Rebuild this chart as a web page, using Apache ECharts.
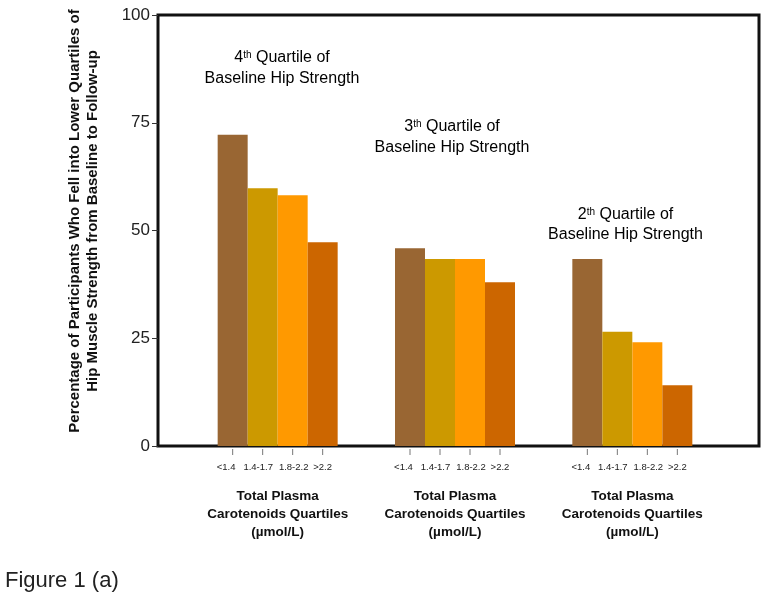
<!DOCTYPE html>
<html lang="en">
<head>
    <meta charset="UTF-8">
    <title>Figure 1 (a)</title>
    <script type="text/javascript" src="https://cdn.jsdelivr.net/npm/echarts@6/dist/echarts.min.js"></script>
    <style>
        html, body { margin: 0; padding: 0; background: #fff; }
        #chart { width: 764px; height: 600px; }
    </style>
</head>
<body>
    <div id="chart"></div>
<script type="text/javascript">
    // baseline hip strength groups (x categories)
    var hipGroups = ['4th', '3th', '2th'];
    // total plasma carotenoids quartiles (umol/L), one bar each per group
    var carotenoidQuartiles = ['<1.4', '1.4-1.7', '1.8-2.2', '>2.2'];
    // percentage who fell into lower quartiles, per carotenoid quartile
    var q1Values = [72.2, 45.9, 43.4];
    var q2Values = [59.8, 43.4, 26.5];
    var q3Values = [58.2, 43.4, 24.1];
    var q4Values = [47.3, 38.0, 14.1];
    var yTicks = [0, 25, 50, 75, 100];

    var barColors = ['#996633', '#cc9900', '#ff9900', '#cc6600'];
    var FONT = '"Liberation Sans", Arial, Helvetica, sans-serif';

    var chart = echarts.init(document.getElementById('chart'));

    //tick marks + quartile names under every group
    //(names in the original sit a bit off their ticks, so the boxes differ in width)
    var labelBoxes = [19, 45, 26, 32];
    var tickLine = carotenoidQuartiles.map(function () { return '{t|}'; }).join('{g|}');
    var quartLine = carotenoidQuartiles.map(function (q, i) { return '{q' + i + '|' + q + '}'; }).join('');
    var tickRich = {
        t: { width: 1, height: 6, lineHeight: 6, backgroundColor: '#777', align: 'center' },
        g: { width: 29, height: 6, lineHeight: 6, align: 'center' }
    };
    labelBoxes.forEach(function (w, i) {
        tickRich['q' + i] = { width: w, fontFamily: FONT, fontSize: 9.5, lineHeight: 24, color: '#222', align: 'center' };
    });

    function annot(n, x, y) {
        return {
            type: 'text',
            x: x, y: y,
            style: {
                text: '{n|' + n.charAt(0) + '}{s|' + n.slice(1) + '}{n| Quartile of}\n{n|Baseline Hip Strength}',
                align: 'center',
                verticalAlign: 'middle',
                rich: {
                    n: { fontFamily: FONT, fontSize: 16, lineHeight: 20.5, color: '#111', align: 'center' },
                    s: { fontFamily: FONT, fontSize: 10, lineHeight: 20.5, color: '#111', align: 'center', verticalAlign: 'top', padding: [3, 0, 0, 0] }
                }
            }
        };
    }

    var option = {
        animation: false,
        backgroundColor: '#fff',
        grid: [
            { left: 158, right: 5, top: 15, bottom: 154, show: true, borderWidth: 3, borderColor: '#111', backgroundColor: 'transparent' },
            { left: 189, right: 43, top: 15, bottom: 154 }
        ],
        xAxis: [
            { gridIndex: 0, type: 'category', data: [''], show: false },
            {
                gridIndex: 1, type: 'category', data: hipGroups,
                axisLine: { show: false }, axisTick: { show: false },
                axisLabel: {
                    interval: 0, margin: 3,
                    formatter: function () { return tickLine + '\n' + quartLine; },
                    rich: tickRich
                }
            },
            {
                gridIndex: 1, type: 'category', data: hipGroups, position: 'bottom',
                axisLine: { show: false }, axisTick: { show: false },
                axisLabel: {
                    interval: 0, margin: 41,
                    fontFamily: FONT, fontSize: 13.5, fontWeight: 'bold', lineHeight: 18, color: '#111',
                    formatter: function () { return 'Total Plasma\nCarotenoids Quartiles\n(\u00b5mol/L)'; }
                }
            }
        ],
        yAxis: [
            {
                gridIndex: 0, type: 'value', min: yTicks[0], max: yTicks[yTicks.length - 1], interval: 25,
                axisLine: { show: false },
                axisTick: { show: true, length: 6, lineStyle: { color: '#333' } },
                splitLine: { show: false },
                axisLabel: { margin: 8, fontFamily: FONT, fontSize: 17, color: '#222' }
            },
            { gridIndex: 1, type: 'value', min: 0, max: 100, show: false }
        ],
        series: [q1Values, q2Values, q3Values, q4Values].map(function (vals, i) {
            return {
                name: carotenoidQuartiles[i],
                type: 'bar',
                xAxisIndex: 1, yAxisIndex: 1,
                barWidth: 30,
                barGap: '0%',
                data: vals,
                itemStyle: { color: barColors[i] }
            };
        }),
        graphic: [
            annot(hipGroups[0], 282, 68),
            annot(hipGroups[1], 452, 137),
            annot(hipGroups[2], 625.5, 224.5),
            {
                type: 'text', x: 84, y: 221, rotation: Math.PI / 2,
                style: {
                    text: 'Percentage of Participants Who Fell into Lower Quartiles of\nHip Muscle Strength from Baseline to Follow-up',
                    fontFamily: FONT, fontSize: 15, fontWeight: 'bold', lineHeight: 18,
                    fill: '#111', align: 'center', verticalAlign: 'middle'
                }
            },
            {
                type: 'text', x: 5, y: 581,
                style: { text: 'Figure 1 (a)', fontFamily: FONT, fontSize: 22, fill: '#222', align: 'left', verticalAlign: 'middle' }
            }
        ]
    };
    chart.setOption(option);
</script>
</body>
</html>
